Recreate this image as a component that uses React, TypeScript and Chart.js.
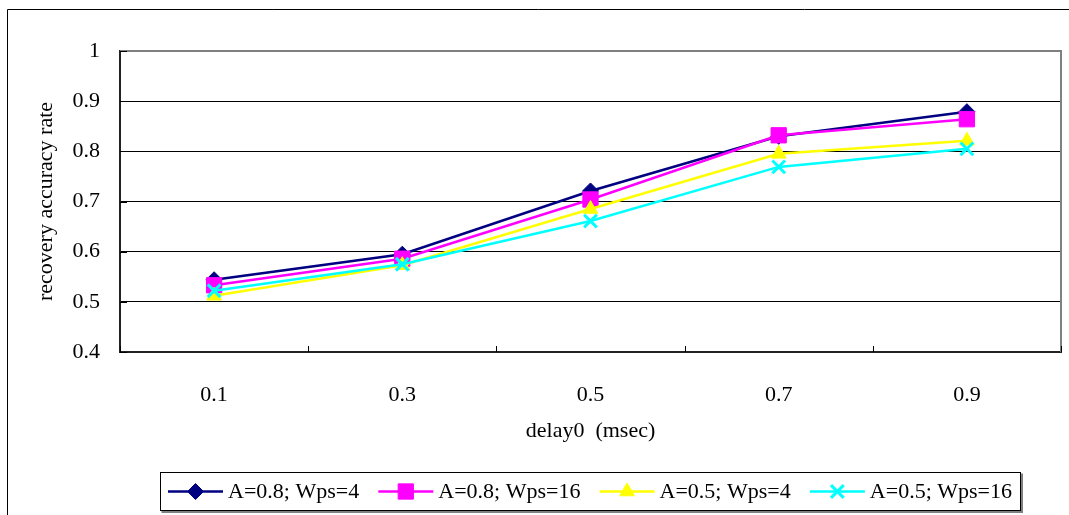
import React, { useEffect, useRef } from 'react';
import { Chart, registerables } from 'chart.js';
import { drawPoint } from 'chart.js/helpers';

Chart.register(...registerables);

const categories = ['0.1', '0.3', '0.5', '0.7', '0.9'];
const seriesNames = ['A=0.8; Wps=4', 'A=0.8; Wps=16', 'A=0.5; Wps=4', 'A=0.5; Wps=16'];
const a08w4 = [0.544, 0.595, 0.721, 0.830, 0.879];
const a08w16 = [0.533, 0.586, 0.704, 0.832, 0.864];
const a05w4 = [0.512, 0.573, 0.685, 0.795, 0.821];
const a05w16 = [0.522, 0.575, 0.661, 0.769, 0.805];
const yMin = 0.4;
const yMax = 1;
const yStep = 0.1;
const xTitle = 'delay0  (msec)';
const yTitle = 'recovery accuracy rate';

const FONT = "'Liberation Serif', 'Times New Roman', serif";
const FS = 22;

const framePlugin = {
  id: 'frame',
  beforeDraw(chart: any) {
    const ctx = chart.ctx;
    ctx.save();
    ctx.fillStyle = '#ffffff';
    ctx.fillRect(0, 0, chart.width, chart.height);
    ctx.strokeStyle = '#000000';
    ctx.lineWidth = 1;
    ctx.beginPath();
    ctx.moveTo(7.5, chart.height + 2);
    ctx.lineTo(7.5, 9.5);
    ctx.lineTo(chart.width + 2, 9.5);
    ctx.stroke();
    ctx.restore();
  },
  beforeDatasetsDraw(chart: any) {
    const ctx = chart.ctx;
    const { left, right, top, bottom } = chart.chartArea;
    ctx.save();
    ctx.strokeStyle = '#808080';
    ctx.lineWidth = 2;
    ctx.beginPath();
    ctx.moveTo(left, top);
    ctx.lineTo(right, top);
    ctx.lineTo(right, bottom);
    ctx.stroke();
    ctx.strokeStyle = '#000000';
    ctx.lineWidth = 1;
    const xs = chart.scales.x;
    const n = categories.length;
    ctx.beginPath();
    for (let i = 0; i <= n; i++) {
      const px = Math.round(xs.getPixelForValue(i - 0.5)) + 0.5;
      ctx.moveTo(px, bottom);
      ctx.lineTo(px, bottom - 6);
    }
    const ys = chart.scales.y;
    ys.ticks.forEach((t: any) => {
      const py = Math.round(ys.getPixelForValue(t.value)) + 0.5;
      ctx.moveTo(left, py);
      ctx.lineTo(left + 7, py);
    });
    ctx.stroke();
    ctx.restore();
  },
  afterDraw(chart: any) {
    const ctx = chart.ctx;
    const boxL = 160.5, boxT = 472.5, boxR = 1020.5, boxB = 510.5;
    ctx.save();
    ctx.fillStyle = '#808080';
    ctx.fillRect(boxL + 1, boxT + 1, boxR - boxL + 1.5, boxB - boxT + 1.5);
    ctx.fillStyle = '#ffffff';
    ctx.fillRect(boxL, boxT, boxR - boxL, boxB - boxT);
    ctx.strokeStyle = '#000000';
    ctx.lineWidth = 1;
    ctx.strokeRect(boxL, boxT, boxR - boxL, boxB - boxT);

    ctx.font = `${FS}px ${FONT}`;
    ctx.textBaseline = 'middle';
    ctx.textAlign = 'left';
    const ds = chart.data.datasets;
    const lineLen = 55;
    const textGap = 5;
    const startX = 168;
    const endX = 1012;
    const widths = ds.map((d: any) => ctx.measureText(d.label).width);
    const total = widths.reduce((a: number, b: number) => a + b, 0) + ds.length * (lineLen + textGap);
    const gap = (endX - startX - total) / (ds.length - 1);
    const cy = (boxT + boxB) / 2;
    let x = startX;
    ds.forEach((d: any, i: number) => {
      ctx.strokeStyle = d.borderColor;
      ctx.lineWidth = d.borderWidth;
      ctx.beginPath();
      ctx.moveTo(x, cy);
      ctx.lineTo(x + lineLen, cy);
      ctx.stroke();
      ctx.fillStyle = d.pointBackgroundColor;
      ctx.strokeStyle = d.pointBorderColor;
      ctx.lineWidth = d.pointBorderWidth;
      drawPoint(ctx, { pointStyle: d.pointStyle, radius: d.pointRadius, rotation: 0, borderWidth: d.pointBorderWidth }, x + lineLen / 2, cy);
      ctx.fillStyle = '#000000';
      ctx.fillText(d.label, x + lineLen + textGap, cy + 1);
      x += lineLen + textGap + widths[i] + gap;
    });
    ctx.restore();
  },
};

function makeDataset(label: string, data: number[], color: string, style: string, radius: number, order: number, pbw: number) {
  return {
    label,
    data,
    borderColor: color,
    backgroundColor: color,
    borderWidth: 2.5,
    pointStyle: style,
    pointRadius: radius,
    pointHoverRadius: radius,
    pointBackgroundColor: color,
    pointBorderColor: color,
    pointBorderWidth: pbw,
    tension: 0,
    fill: false,
    order,
  };
}

export default function App() {
  const canvasRef = useRef<HTMLCanvasElement | null>(null);

  useEffect(() => {
    const canvas = canvasRef.current;
    if (!canvas) return;
    const chart = new Chart(canvas, {
      type: 'line',
      data: {
        labels: categories,
        datasets: [
          makeDataset(seriesNames[0], a08w4, '#000080', 'rectRot', 8, 4, 1),
          makeDataset(seriesNames[1], a08w16, '#ff00ff', 'rect', 10.8, 3, 1),
          makeDataset(seriesNames[2], a05w4, '#ffff00', 'triangle', 8.5, 2, 1),
          makeDataset(seriesNames[3], a05w16, '#00ffff', 'crossRot', 9, 1, 3),
        ] as any,
      },
      options: {
        responsive: false,
        animation: false,
        events: [],
        layout: { autoPadding: false, padding: { left: 0, top: 51, right: 8, bottom: 55 } },
        plugins: {
          legend: { display: false },
          tooltip: { enabled: false },
          title: { display: false },
        },
        scales: {
          x: {
            type: 'category',
            offset: true,
            grid: { display: true, color: 'rgba(0,0,0,0)', drawTicks: false, offset: true },
            border: { display: true, color: '#222222', width: 2 },
            ticks: { color: '#000000', font: { family: FONT, size: FS }, padding: 30, maxRotation: 0 },
            title: { display: true, text: xTitle, color: '#000000', font: { family: FONT, size: FS }, padding: { top: 0, bottom: 16 } },
            afterFit: (s: any) => { s.height = 108; s.paddingLeft = 0; s.paddingRight = 0; },
          },
          y: {
            type: 'linear',
            min: yMin,
            max: yMax,
            ticks: {
              stepSize: yStep,
              color: '#000000',
              font: { family: FONT, size: FS },
              padding: 20,
              callback: (v: any) => String(Number(Number(v).toFixed(1))),
            },
            grid: {
              drawTicks: false,
              lineWidth: 1,
              color: (c: any) => (c.tick && Math.abs(c.tick.value - yMax) < 1e-6 ? '#808080' : '#000000'),
            },
            border: { display: true, color: '#222222', width: 2 },
            title: { display: true, text: yTitle, color: '#000000', font: { family: FONT, size: FS }, padding: { top: 33, bottom: 0 } },
            afterFit: (s: any) => { s.width = 120; s.paddingTop = 0; s.paddingBottom = 0; },
          },
        },
      } as any,
      plugins: [framePlugin],
    });
    return () => chart.destroy();
  }, []);

  return (
    <div style={{ position: 'absolute', left: 0, top: 0, width: 1069, height: 515 }}>
      <canvas ref={canvasRef} width={1069} height={515} style={{ display: 'block', width: 1069, height: 515 }} />
    </div>
  );
}
